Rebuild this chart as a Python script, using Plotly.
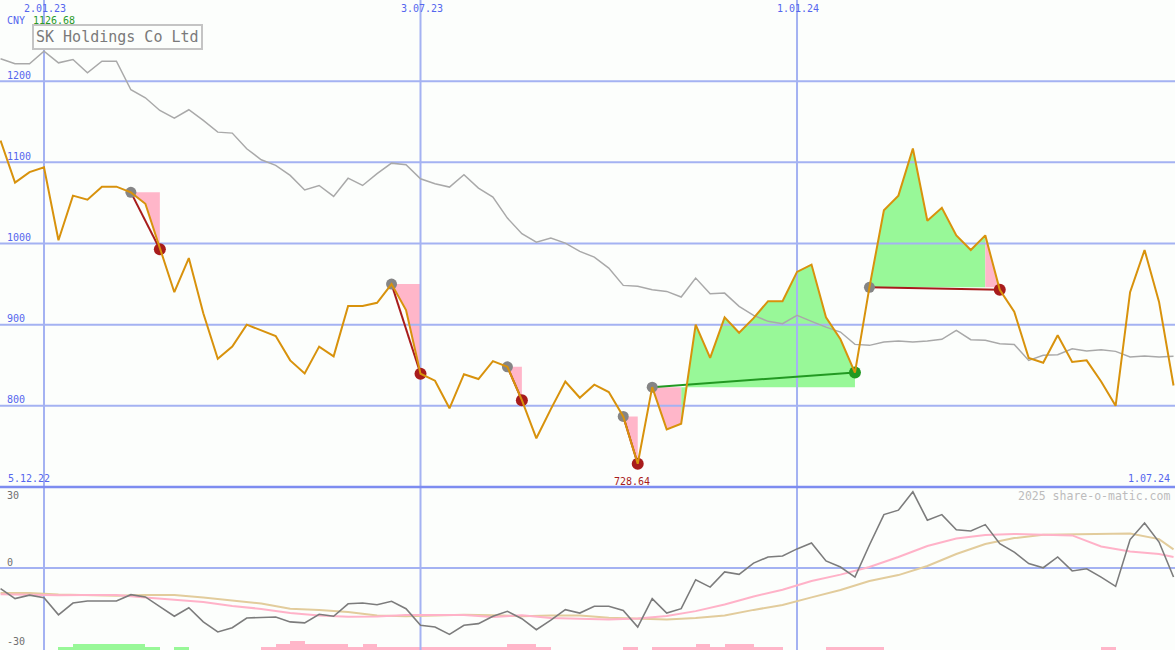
import pandas as pd
import plotly.graph_objects as go

# ---------------- data ----------------
weeks = pd.date_range("2022-12-12", periods=82, freq="7D")

price = [1126.68, 1075, 1088, 1094, 1004, 1059, 1054, 1070, 1070, 1063,
         1049, 993, 940, 982, 914, 858, 873, 900, 893, 886,
         856, 840, 873, 861, 923, 923, 927, 950, 918, 839.5,
         831, 797, 839, 833, 855, 848, 807, 760, 796, 830,
         810, 826, 817, 787, 728.64, 823, 771, 778, 900, 859,
         909, 890, 908, 929, 929, 965, 974, 909, 882, 841,
         946, 1041, 1059, 1117, 1028, 1044, 1010, 992, 1010, 943,
         916, 859, 853, 887, 854, 856, 830, 800, 940, 992,
         928, 825]

ma_long = [1227.6, 1221.4, 1221.4, 1236.9, 1222.6, 1226.7, 1210.3, 1224.6, 1224.6, 1189.4,
           1179.5, 1163.9, 1154.4, 1164.8, 1151.6, 1137.2, 1136, 1116.7, 1103.2, 1096.2,
           1083.9, 1066.0, 1071.5, 1058, 1080.5, 1071.5, 1086, 1099, 1097, 1079.8,
           1073.6, 1069.5, 1084.7, 1068.2, 1057.1, 1031.3, 1012, 1001.7, 1006.6, 1000.5,
           990.3, 983.2, 969.7, 948.4, 947.2, 943.1, 941, 934, 957.4, 938.2,
           938.9, 922.5, 911.4, 904.1, 901.2, 911.4, 904.1, 897, 890.9, 875.7,
           874.5, 878.6, 879.8, 878.6, 879.8, 881.9, 893, 881.5, 880.7, 876.6,
           875.7, 856, 862.2, 863, 870.4, 867.5, 869.2, 867.1, 860.1, 861.3,
           860.1, 861]

osc = [-8.4, -12.5, -11.1, -12.1, -19.1, -14.3, -13.5, -13.5, -13.5, -10.9,
       -11.8, -15.8, -19.7, -16.2, -22.0, -26.1, -24.4, -20.4, -20.2, -20.0,
       -22.0, -22.4, -18.9, -19.7, -14.6, -14.3, -15.0, -13.6, -16.6, -23.4,
       -24.1, -27.1, -23.4, -22.7, -19.7, -17.7, -20.7, -25.2, -21.3, -17.0,
       -18.4, -15.6, -15.6, -17.3, -24.1, -12.5, -18.4, -16.6, -4.8, -7.8,
       -1.6, -2.6, 2.0, 4.5, 4.9, 7.8, 10.2, 2.9, 0.4, -3.7,
       9.4, 21.8, 23.6, 31.1, 19.5, 21.8, 15.6, 15.1, 17.7, 9.9,
       6.5, 1.8, 0.1, 4.5, -1.2, -0.3, -3.7, -7.5, 11.6, 18.4,
       10.6, -3.7]

# smoother indicator lines read every second week (plus the last week)
slow_idx = list(range(0, 81, 2)) + [81]
sig_pink = [-10.7, -11.0, -11.1, -11.0, -11.0, -12.0, -12.9, -13.9, -15.5, -16.7,
            -18.4, -19.4, -19.9, -19.8, -19.2, -19.1, -19.2, -20.0, -19.3, -20.4,
            -20.7, -21.0, -20.6, -19.6, -17.6, -14.9, -11.6, -8.9, -5.3, -2.7,
            0.4, 4.5, 9.0, 12.0, 13.5, 13.9, 13.6, 13.3, 8.8, 6.7,
            5.7, 4.5]
sig_tan = [-10.2, -10.2, -10.8, -11.2, -11.3, -11.0, -11.0, -12.0, -13.2, -14.5,
           -16.6, -17.1, -18.0, -19.4, -19.7, -19.4, -19.1, -19.3, -19.7, -19.4,
           -19.4, -20.3, -20.8, -21.0, -20.4, -19.4, -17.1, -15.1, -12.0, -9.0,
           -5.3, -2.9, 0.8, 5.7, 9.8, 12.2, 13.6, 13.8, 13.8, 14.1,
           11.8, 7.6]

# histogram levels (+ green, - pink)
hist = [0, 0, 0, 0, 1, 2, 2, 2, 2, 2,
        1, 0, 1, 0, 0, 0, 0, 0, -1, -2,
        -3, -2, -2, -2, -1, -2, -1, -1, -1, -1,
        -1, -1, -1, -1, -1, -2, -2, -1, 0, 0,
        0, 0, 0, -1, 0, -1, -1, -1, -2, -1,
        -2, -2, -1, -1, 0, 0, 0, -1, -1, -1,
        -1, 0, 0, 0, 0, 0, 0, 0, 0, 0,
        0, 0, 0, 0, 0, 0, -1, 0, 0, 0,
        0, 0]

# trades: (entry week index, exit week index)
trades = [(9, 11), (27, 29), (35, 36), (43, 44), (45, 59), (60, 69)]

price_ticks = [800, 900, 1000, 1100, 1200]
osc_ticks = [30, 0, -30]
date_ticks = ["2023-01-02", "2023-07-03", "2024-01-01"]
date_tick_text = ["2.01.23", "3.07.23", "1.01.24"]
title = "SK Holdings Co Ltd"
currency = "CNY"
first_price_text = "1126.68"
start_text = "5.12.22"
end_text = "1.07.24"
low_text = "728.64"
credit = "2025 share-o-matic.com"

# ---------------- styling / geometry ----------------
X_RANGE = ["2022-12-11 17:30", "2024-07-01 17:00"]
Y_RANGE = [700, 1300]
Y2_RANGE = [-33.47, 33.06]
SPLIT = 163 / 650
HIST_UNIT = 1.2245

BG = "#fcfefc"
GRID = "#a4b2f2"
SEP = "#7d8cf0"
LABEL = "#5566ee"
ORANGE = "#d8920c"
MA_GREY = "#a9a9a9"
PINK_FILL = "#ffb6c9"
GREEN_FILL = "#98f898"
DARK_RED = "#a81c1c"
GREEN_DOT = "#229922"
FONT = "DejaVu Sans Mono"

fig = go.Figure()

# ---------------- trade fills ----------------
fill_x = {"g": [], "p": []}
fill_y = {"g": [], "p": []}
for e, x in trades:
    entry = price[e]
    runs = []
    for i in range(e, x):
        c = "g" if price[i + 1] > entry else "p"
        if runs and runs[-1][0] == c:
            runs[-1][2] = i
        else:
            runs.append([c, i, i])
    for c, i0, i1 in runs:
        xs = [weeks[i0]] + [weeks[k] for k in range(i0, i1 + 2)] + [weeks[i1 + 1], weeks[i0]]
        ys = [entry] + [price[k] for k in range(i0, i1 + 2)] + [entry, entry]
        fill_x[c] += xs + [None]
        fill_y[c] += ys + [None]

for c, col in (("g", GREEN_FILL), ("p", PINK_FILL)):
    fig.add_trace(go.Scatter(x=fill_x[c], y=fill_y[c], mode="lines", fill="toself",
                             fillcolor=col, line=dict(width=0, color=col),
                             hoverinfo="skip", showlegend=False))

# ---------------- grid lines (drawn above the fills) ----------------
gx, gy = [], []
for v in price_ticks:
    gx += [X_RANGE[0], X_RANGE[1], None]
    gy += [v, v, None]
for d in date_ticks:
    gx += [d, d, None]
    gy += [Y_RANGE[0], Y_RANGE[1], None]
fig.add_trace(go.Scatter(x=gx, y=gy, mode="lines", line=dict(color=GRID, width=2),
                         hoverinfo="skip", showlegend=False))
g2x, g2y = [X_RANGE[0], X_RANGE[1], None], [0, 0, None]
for d in date_ticks:
    g2x += [d, d, None]
    g2y += [Y2_RANGE[0], Y2_RANGE[1], None]
fig.add_trace(go.Scatter(x=g2x, y=g2y, yaxis="y2", mode="lines",
                         line=dict(color=GRID, width=2),
                         hoverinfo="skip", showlegend=False))

# ---------------- lower panel ----------------
bar_x = [weeks[i] for i, h in enumerate(hist) if h != 0]
bar_h = [abs(h) * HIST_UNIT for h in hist if h != 0]
bar_c = [GREEN_FILL if h > 0 else PINK_FILL for h in hist if h != 0]
fig.add_trace(go.Bar(x=bar_x, y=bar_h, base=Y2_RANGE[0], yaxis="y2",
                     width=7 * 86400000, offset=0,
                     marker=dict(color=bar_c, line=dict(width=0)),
                     hoverinfo="skip", showlegend=False))
slow_x = [weeks[i] for i in slow_idx]
fig.add_trace(go.Scatter(x=slow_x, y=sig_tan, yaxis="y2", mode="lines",
                         line=dict(color="#e2cc9c", width=2),
                         hoverinfo="skip", showlegend=False))
fig.add_trace(go.Scatter(x=slow_x, y=sig_pink, yaxis="y2", mode="lines",
                         line=dict(color="#ffb2c8", width=2),
                         hoverinfo="skip", showlegend=False))
fig.add_trace(go.Scatter(x=weeks, y=osc, yaxis="y2", mode="lines",
                         line=dict(color="#7c7c7c", width=1.6),
                         hoverinfo="skip", showlegend=False))

# ---------------- main panel lines ----------------
fig.add_trace(go.Scatter(x=weeks, y=ma_long, mode="lines",
                         line=dict(color=MA_GREY, width=1.5),
                         hoverinfo="skip", showlegend=False))

for e, x in trades:
    col = GREEN_DOT if price[x] > price[e] else DARK_RED
    fig.add_trace(go.Scatter(x=[weeks[e], weeks[x]], y=[price[e], price[x]], mode="lines",
                             line=dict(color=col, width=2),
                             hoverinfo="skip", showlegend=False))

fig.add_trace(go.Scatter(x=[weeks[e] for e, _ in trades], y=[price[e] for e, _ in trades],
                         mode="markers", marker=dict(color="#858585", size=11),
                         hoverinfo="skip", showlegend=False))
fig.add_trace(go.Scatter(x=[weeks[x] for _, x in trades], y=[price[x] for _, x in trades],
                         mode="markers",
                         marker=dict(color=[GREEN_DOT if price[x] > price[e] else DARK_RED
                                            for e, x in trades], size=12),
                         hoverinfo="skip", showlegend=False))

fig.add_trace(go.Scatter(x=weeks, y=price, mode="lines",
                         line=dict(color=ORANGE, width=2),
                         hoverinfo="skip", showlegend=False))

# ---------------- annotations ----------------
ann = []
for d, t in zip(date_ticks, date_tick_text):
    ann.append(dict(x=d, xref="x", y=1 - 8 / 650, yref="paper", text=t, showarrow=False,
                    xanchor="center", yanchor="middle", xshift=1,
                    font=dict(family=FONT, size=10, color=LABEL)))
for v in price_ticks:
    ann.append(dict(x=5 / 1175, xref="paper", y=v, yref="y", text=str(v), showarrow=False,
                    xanchor="left", yanchor="middle", yshift=6,
                    font=dict(family=FONT, size=10, color=LABEL)))
for v, sh in zip(osc_ticks, [-1, 6, 0]):
    ann.append(dict(x=5 / 1175, xref="paper", y=v, yref="y2", text=str(v), showarrow=False,
                    xanchor="left", yanchor="middle", yshift=sh,
                    font=dict(family=FONT, size=10, color="#707070")))
ann.append(dict(x=5 / 1175, xref="paper", y=1 - 21 / 650, yref="paper", text=currency,
                showarrow=False, xanchor="left", yanchor="middle",
                font=dict(family=FONT, size=10, color=LABEL)))
ann.append(dict(x=31 / 1175, xref="paper", y=1 - 21 / 650, yref="paper", text=first_price_text,
                showarrow=False, xanchor="left", yanchor="middle",
                font=dict(family=FONT, size=10, color="#2a9a2a")))
ann.append(dict(x=32 / 1175, xref="paper", y=1 - 24 / 650, yref="paper", text=title,
                showarrow=False, xanchor="left", yanchor="top",
                bordercolor="#c4c4c4", borderwidth=2, borderpad=2, bgcolor=BG,
                font=dict(family=FONT, size=15, color="#7a7a7a")))
ann.append(dict(x=6 / 1175, xref="paper", y=1 - 478.5 / 650, yref="paper", text=start_text,
                showarrow=False, xanchor="left", yanchor="middle",
                font=dict(family=FONT, size=10, color=LABEL)))
ann.append(dict(x=1172 / 1175, xref="paper", y=1 - 478.5 / 650, yref="paper", text=end_text,
                showarrow=False, xanchor="right", yanchor="middle",
                font=dict(family=FONT, size=10, color=LABEL)))
low_i = price.index(min(price))
ann.append(dict(x=weeks[low_i], xref="x", y=price[low_i], yref="y", text=low_text,
                showarrow=False, xanchor="center", yanchor="top", yshift=-10, xshift=-6,
                font=dict(family=FONT, size=10, color=DARK_RED)))
ann.append(dict(x=1172 / 1175, xref="paper", y=1 - 496 / 650, yref="paper", text=credit,
                showarrow=False, xanchor="right", yanchor="middle",
                font=dict(family=FONT, size=11.5, color="#bcbcbc")))

fig.update_layout(
    width=1175, height=650, autosize=False,
    margin=dict(l=0, r=0, t=0, b=0),
    paper_bgcolor=BG, plot_bgcolor=BG,
    showlegend=False, hovermode=False, bargap=0,
    xaxis=dict(type="date", range=X_RANGE, showgrid=False, zeroline=False,
               showticklabels=False, showline=False, ticks="", fixedrange=True),
    yaxis=dict(domain=[SPLIT, 1], range=Y_RANGE, showgrid=False, zeroline=False,
               showticklabels=False, showline=False, ticks="", fixedrange=True),
    yaxis2=dict(domain=[0, SPLIT], range=Y2_RANGE, anchor="x", showgrid=False,
                zeroline=False, showticklabels=False, showline=False, ticks="",
                fixedrange=True),
    annotations=ann,
    shapes=[dict(type="line", xref="paper", yref="paper", x0=0, x1=1, y0=SPLIT, y1=SPLIT,
                 line=dict(color=SEP, width=2.5), layer="above")],
)

fig.write_html("out.html", config={"displayModeBar": False, "staticPlot": True},
               post_script="document.body.style.margin='0';"
                           "document.body.style.overflow='hidden';"
                           "document.body.style.background='" + BG + "';")
